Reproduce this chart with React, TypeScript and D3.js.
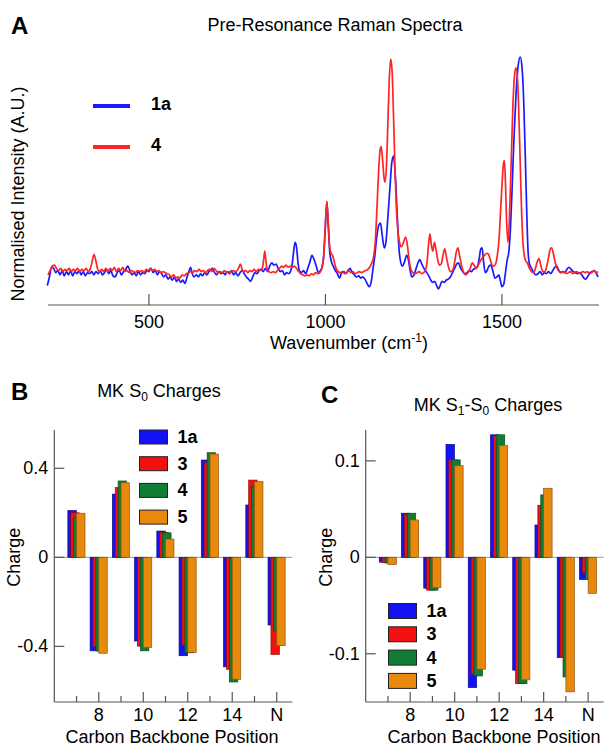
import { useEffect, useRef } from 'react';
import * as d3 from 'd3';

// Raman spectra, [wavenumber, normalised intensity]
const spectrum1a = [
  [212, -0.06], [218, -0.02], [224, 0.025], [230, 0.02], [236, 0.0], [242, 0.01], [248, -0.01], [254, 0.01],
  [260, -0.015], [266, 0.005], [272, -0.01], [278, 0.01], [284, -0.015], [290, 0.005], [296, -0.005], [302, 0.01],
  [308, -0.01], [314, 0.005], [320, -0.015], [326, 0.0], [332, -0.005], [338, 0.005], [344, -0.01], [350, 0.005],
  [356, -0.005], [362, 0.01], [368, -0.01], [374, 0.0], [380, 0.015], [386, -0.005], [392, 0.01], [398, -0.015],
  [404, -0.02], [410, 0.0], [416, 0.01], [422, -0.01], [428, 0.005], [434, 0.015], [440, 0.03], [446, 0.01],
  [452, -0.01], [458, 0.0], [464, -0.015], [470, 0.005], [476, -0.01], [482, 0.0], [488, -0.005], [494, 0.01],
  [500, 0.005], [506, 0.02], [512, 0.0], [518, 0.01], [524, -0.01], [530, 0.005], [536, -0.005], [542, -0.02],
  [548, -0.01], [554, -0.03], [560, -0.02], [566, -0.035], [572, -0.02], [578, -0.04], [584, -0.03], [590, -0.045],
  [596, -0.035], [602, -0.05], [608, -0.02], [614, 0.01], [618, 0.025], [622, 0.0], [628, -0.02], [634, -0.01],
  [640, -0.02], [646, -0.005], [652, -0.015], [658, 0.0], [664, -0.01], [670, 0.005], [676, 0.015], [680, 0.02],
  [686, 0.0], [692, -0.01], [698, 0.005], [704, -0.005], [710, 0.0], [716, -0.01], [722, 0.005], [728, -0.005],
  [734, 0.01], [740, -0.01], [746, 0.0], [752, -0.015], [758, 0.0], [764, 0.01], [770, -0.005], [776, -0.02],
  [782, -0.03], [788, -0.04], [794, -0.02], [800, 0.0], [806, -0.005], [812, 0.01], [818, 0.015], [824, 0.005],
  [830, 0.02], [836, 0.005], [842, 0.03], [848, 0.045], [854, 0.035], [860, 0.04], [866, 0.02], [872, 0.005],
  [878, 0.01], [884, -0.01], [890, 0.0], [896, -0.005], [902, 0.01], [906, 0.04], [910, 0.1], [914, 0.14],
  [918, 0.12], [922, 0.05], [926, 0.01], [932, 0.0], [938, 0.01], [944, -0.005], [950, 0.02], [956, 0.05],
  [962, 0.08], [968, 0.06], [974, 0.03], [980, 0.0], [986, 0.01], [991, 0.03], [995, 0.08], [999, 0.19],
  [1004, 0.33], [1008, 0.22], [1012, 0.1], [1017, 0.05], [1022, 0.03], [1028, 0.01], [1034, -0.005], [1040, -0.025],
  [1046, 0.0], [1052, 0.005], [1058, -0.005], [1064, 0.01], [1070, 0.02], [1076, 0.0], [1082, -0.01], [1088, -0.02],
  [1094, -0.015], [1100, -0.025], [1106, -0.02], [1112, -0.03], [1118, -0.05], [1124, -0.065], [1130, -0.04],
  [1135, 0.02], [1140, 0.08], [1145, 0.16], [1151, 0.22], [1156, 0.23], [1161, 0.17], [1167, 0.115], [1172, 0.15],
  [1177, 0.26], [1183, 0.4], [1188, 0.51], [1193, 0.54], [1198, 0.45], [1203, 0.28], [1208, 0.12], [1213, 0.05],
  [1218, 0.03], [1224, 0.05], [1230, 0.08], [1235, 0.06], [1240, 0.01], [1245, -0.02], [1251, -0.01], [1257, 0.02],
  [1262, 0.045], [1267, 0.06], [1273, 0.04], [1279, 0.02], [1285, 0.005], [1291, -0.01], [1297, -0.03], [1303, -0.045],
  [1309, -0.04], [1315, -0.06], [1320, -0.075], [1325, -0.06], [1330, -0.04], [1336, -0.045], [1342, -0.035],
  [1348, -0.03], [1354, -0.02], [1360, 0.0], [1366, 0.02], [1372, 0.04], [1377, 0.045], [1383, 0.02], [1389, 0.005],
  [1395, -0.005], [1401, 0.0], [1407, 0.01], [1413, 0.005], [1419, 0.015], [1425, 0.02], [1431, 0.03], [1436, 0.07],
  [1440, 0.11], [1444, 0.115], [1448, 0.05], [1453, 0.0], [1458, 0.01], [1463, 0.03], [1468, 0.035], [1474, 0.01],
  [1480, -0.025], [1486, -0.02], [1491, -0.01], [1496, -0.04], [1500, -0.065], [1505, -0.055], [1510, 0.0],
  [1515, 0.06], [1519, 0.09], [1524, 0.2], [1529, 0.4], [1534, 0.62], [1540, 0.83], [1546, 0.96], [1552, 1.0],
  [1557, 0.95], [1562, 0.78], [1566, 0.55], [1570, 0.3], [1574, 0.1], [1578, 0.04], [1584, 0.02], [1590, 0.0],
  [1596, -0.01], [1602, -0.005], [1608, 0.005], [1614, -0.01], [1620, 0.0], [1626, -0.005], [1632, 0.005],
  [1638, -0.005], [1644, 0.01], [1650, 0.025], [1655, 0.03], [1660, 0.015], [1666, 0.0], [1672, 0.005], [1678, 0.0],
  [1684, 0.015], [1690, 0.025], [1696, 0.015], [1702, 0.005], [1708, 0.0], [1714, -0.005], [1720, 0.0], [1726, -0.01],
  [1732, -0.025], [1738, -0.03], [1744, -0.015], [1750, 0.0], [1756, 0.005], [1762, 0.01], [1768, -0.005], [1772, -0.02],
];

const spectrum4 = [
  [214, -0.01], [220, 0.01], [226, 0.03], [232, 0.035], [238, 0.02], [244, 0.01], [250, 0.02], [256, 0.005],
  [262, 0.015], [268, 0.01], [274, 0.02], [280, 0.005], [286, 0.015], [292, 0.01], [298, 0.02], [304, 0.005],
  [310, 0.015], [316, 0.01], [322, 0.02], [328, 0.005], [334, 0.02], [339, 0.05], [344, 0.085], [349, 0.06],
  [354, 0.02], [360, 0.005], [366, 0.015], [372, 0.005], [378, 0.02], [384, 0.005], [390, 0.02], [396, 0.01],
  [402, 0.025], [408, 0.005], [414, 0.02], [420, 0.01], [426, 0.025], [432, 0.005], [438, 0.01], [444, 0.0],
  [450, 0.01], [456, 0.005], [462, 0.0], [468, 0.01], [474, 0.005], [480, 0.01], [486, 0.0], [492, 0.015],
  [498, 0.01], [504, 0.02], [510, 0.01], [516, 0.015], [522, 0.005], [528, 0.01], [534, 0.0], [540, 0.005],
  [546, 0.0], [552, -0.005], [558, -0.01], [564, -0.02], [570, -0.01], [576, -0.025], [582, -0.02], [588, -0.025],
  [594, -0.01], [600, -0.015], [606, -0.005], [612, 0.0], [618, 0.005], [624, 0.0], [630, 0.01], [636, 0.005],
  [642, 0.015], [648, 0.005], [654, 0.01], [660, 0.0], [666, 0.01], [672, 0.015], [678, 0.005], [684, 0.02],
  [690, 0.01], [696, 0.0], [702, 0.005], [708, 0.0], [714, 0.01], [720, 0.0], [726, 0.005], [732, 0.0],
  [738, 0.01], [744, 0.005], [750, 0.01], [755, 0.025], [759, 0.04], [763, 0.02], [768, 0.005], [774, 0.01],
  [780, 0.0], [786, 0.01], [792, 0.005], [798, 0.015], [804, 0.005], [810, 0.015], [816, 0.01], [821, 0.02],
  [825, 0.06], [828, 0.1], [831, 0.06], [835, 0.015], [840, 0.005], [846, 0.0], [852, 0.005], [858, 0.0],
  [864, 0.01], [870, 0.02], [876, 0.03], [882, 0.025], [888, 0.035], [894, 0.025], [900, 0.03], [906, 0.025],
  [912, 0.03], [918, 0.02], [924, 0.005], [930, -0.005], [936, -0.01], [942, -0.015], [948, -0.01], [954, -0.015],
  [960, -0.005], [966, -0.01], [972, 0.0], [978, -0.005], [984, 0.0], [990, 0.02], [995, 0.07], [999, 0.19],
  [1004, 0.33], [1008, 0.23], [1012, 0.12], [1016, 0.09], [1020, 0.08], [1025, 0.05], [1030, 0.02], [1036, 0.005],
  [1042, 0.0], [1048, 0.005], [1054, -0.005], [1060, 0.0], [1066, 0.01], [1072, 0.0], [1078, 0.005], [1084, -0.005],
  [1090, 0.0], [1096, 0.005], [1102, 0.0], [1108, 0.005], [1114, 0.01], [1120, 0.015], [1125, 0.025], [1130, 0.04],
  [1136, 0.07], [1141, 0.14], [1146, 0.3], [1151, 0.48], [1155, 0.57], [1158, 0.585], [1162, 0.52], [1166, 0.44],
  [1169, 0.42], [1173, 0.5], [1177, 0.7], [1181, 0.9], [1185, 0.99], [1189, 0.93], [1193, 0.72], [1197, 0.48],
  [1201, 0.3], [1205, 0.2], [1210, 0.14], [1215, 0.12], [1221, 0.14], [1227, 0.165], [1232, 0.13], [1237, 0.06],
  [1242, 0.015], [1248, 0.0], [1254, -0.005], [1260, 0.0], [1266, 0.005], [1272, -0.005], [1278, 0.0], [1283, 0.01],
  [1288, 0.05], [1292, 0.13], [1296, 0.18], [1300, 0.13], [1304, 0.1], [1309, 0.14], [1313, 0.11], [1318, 0.06],
  [1323, 0.035], [1328, 0.04], [1333, 0.08], [1338, 0.11], [1343, 0.07], [1348, 0.03], [1354, 0.005], [1360, 0.01],
  [1365, 0.04], [1370, 0.09], [1375, 0.115], [1380, 0.08], [1386, 0.03], [1392, 0.0], [1398, -0.01], [1404, 0.0],
  [1410, 0.02], [1416, 0.045], [1421, 0.035], [1427, 0.02], [1433, 0.035], [1439, 0.055], [1445, 0.07], [1451, 0.08],
  [1457, 0.09], [1462, 0.085], [1467, 0.06], [1472, 0.035], [1477, 0.03], [1482, 0.04], [1487, 0.08], [1492, 0.16],
  [1496, 0.28], [1500, 0.4], [1504, 0.5], [1507, 0.52], [1510, 0.42], [1513, 0.25], [1517, 0.14], [1521, 0.24],
  [1526, 0.5], [1531, 0.77], [1536, 0.92], [1540, 0.95], [1545, 0.87], [1550, 0.62], [1555, 0.32], [1560, 0.13],
  [1566, 0.06], [1572, 0.045], [1578, 0.02], [1584, 0.005], [1590, 0.0], [1595, 0.02], [1600, 0.05], [1605, 0.065],
  [1610, 0.035], [1616, 0.005], [1622, 0.005], [1627, 0.03], [1632, 0.07], [1637, 0.11], [1641, 0.115], [1646, 0.085],
  [1652, 0.04], [1658, 0.015], [1664, 0.005], [1670, 0.0], [1676, 0.005], [1682, -0.005], [1688, 0.0], [1694, 0.005],
  [1700, -0.005], [1706, 0.0], [1712, 0.005], [1718, -0.005], [1724, 0.0], [1730, 0.005], [1736, 0.0], [1742, 0.005],
  [1748, -0.005], [1754, 0.0], [1760, 0.01], [1766, 0.0], [1772, 0.005],
];

const wavenumberTicks = [500, 1000, 1500];

// carbon backbone positions (16 = N)
const positions = [7, 8, 9, 10, 11, 12, 13, 14, 15, 16];
const majorTicks = [8, 10, 12, 14, 16];
const majorTickLabels = ['8', '10', '12', '14', 'N'];
const minorTicks = [7, 9, 11, 13, 15];

const compounds = ['1a', '3', '4', '5'];
const barColors = ['#1212f2', '#f21010', '#0f7d33', '#e8890e'];

// MK S0 charges
const s0_1a = [0.21, -0.42, 0.284, -0.376, 0.118, -0.442, 0.437, -0.492, 0.235, -0.304];
const s0_3 = [0.2, -0.4, 0.313, -0.399, 0.112, -0.394, 0.425, -0.503, 0.347, -0.436];
const s0_4 = [0.178, -0.421, 0.343, -0.42, 0.11, -0.429, 0.47, -0.56, 0.317, -0.331];
const s0_5 = [0.198, -0.431, 0.335, -0.405, 0.082, -0.427, 0.464, -0.548, 0.34, -0.397];
const s0Ticks = [-0.4, 0, 0.4];

// MK S1-S0 charges
const s1s0_1a = [-0.005, 0.0457, -0.032, 0.117, -0.135, 0.127, -0.117, 0.0335, -0.104, -0.0229];
const s1s0_3 = [-0.0055, 0.0446, -0.034, 0.101, -0.121, 0.126, -0.131, 0.054, -0.104, -0.016];
const s1s0_4 = [-0.006, 0.0457, -0.034, 0.101, -0.123, 0.127, -0.131, 0.0647, -0.124, -0.0229];
const s1s0_5 = [-0.0075, 0.0387, -0.0315, 0.095, -0.116, 0.116, -0.127, 0.0716, -0.1395, -0.0374];
const s1s0Ticks = [-0.1, 0, 0.1];

const FONT = '"Liberation Sans", Arial, Helvetica, sans-serif';
const AXIS = '#555';

function drawBarPanel(svg, o) {
  const x = d3.scaleLinear().domain([6, 16.7]).range([o.left, o.left + 238]);
  const y = d3.scaleLinear().domain(o.yDomain).range([702, 430]);
  const g = svg.append('g');

  g.append('text').attr('x', o.letterX).attr('y', o.letterY).attr('font-size', 24)
    .attr('font-weight', 'bold').text(o.letter);

  const title = g.append('text').attr('x', o.titleX).attr('y', o.titleY)
    .attr('text-anchor', 'middle').attr('font-size', 18);
  o.title(title);

  // zero line
  g.append('line').attr('x1', x(6)).attr('x2', x(16.7)).attr('y1', y(0)).attr('y2', y(0))
    .attr('stroke', '#999').attr('stroke-width', 1);

  // bars
  const series = o.series;
  series.forEach((vals, i) => {
    const c = d3.color(barColors[i]).darker(1.3).toString();
    g.selectAll(null).data(positions.map((p, j) => ({ p, v: vals[j] }))).enter()
      .append('rect')
      .attr('x', d => x(d.p - 0.39 + i * 0.13))
      .attr('width', x(6.38) - x(6))
      .attr('y', d => Math.min(y(d.v), y(0)))
      .attr('height', d => Math.abs(y(d.v) - y(0)))
      .attr('fill', barColors[i])
      .attr('stroke', c)
      .attr('stroke-width', 0.7);
  });

  // axes
  g.append('line').attr('x1', x(6)).attr('x2', x(6)).attr('y1', 430).attr('y2', 702)
    .attr('stroke', AXIS).attr('stroke-width', 1.2);
  g.append('line').attr('x1', x(6)).attr('x2', x(16.7)).attr('y1', 702).attr('y2', 702)
    .attr('stroke', AXIS).attr('stroke-width', 1.2);

  majorTicks.forEach((t, i) => {
    g.append('line').attr('x1', x(t)).attr('x2', x(t)).attr('y1', 702).attr('y2', 692)
      .attr('stroke', AXIS).attr('stroke-width', 1.2);
    g.append('text').attr('x', x(t)).attr('y', 721).attr('text-anchor', 'middle')
      .attr('font-size', 18).text(majorTickLabels[i]);
  });
  minorTicks.forEach(t => {
    g.append('line').attr('x1', x(t)).attr('x2', x(t)).attr('y1', 702).attr('y2', 696)
      .attr('stroke', AXIS).attr('stroke-width', 1.2);
  });
  o.yTicks.forEach(t => {
    g.append('line').attr('x1', x(6)).attr('x2', x(6) + 10).attr('y1', y(t)).attr('y2', y(t))
      .attr('stroke', AXIS).attr('stroke-width', 1.2);
    g.append('text').attr('x', x(6) - 6).attr('y', y(t) + 6).attr('text-anchor', 'end')
      .attr('font-size', 18).text(t === 0 ? '0' : String(t));
  });

  g.append('text').attr('transform', `translate(${o.left - 34},${y(0)}) rotate(-90)`)
    .attr('text-anchor', 'middle').attr('font-size', 18).text('Charge');
  g.append('text').attr('x', o.xLabelX).attr('y', 743).attr('text-anchor', 'middle')
    .attr('font-size', 18).text('Carbon Backbone Position');

  // legend
  compounds.forEach((name, i) => {
    const cy = o.legendY + i * o.legendStep;
    g.append('rect').attr('x', o.legendX).attr('y', cy - o.swatchH / 2).attr('width', 28)
      .attr('height', o.swatchH).attr('fill', barColors[i]).attr('stroke', '#222').attr('stroke-width', 1);
    g.append('text').attr('x', o.legendX + 38).attr('y', cy + 6).attr('font-size', 18)
      .attr('font-weight', 'bold').text(name);
  });
}

const App = () => {
  const svgRef = useRef(null);

  useEffect(() => {
    const svg = d3.select(svgRef.current);
    svg.selectAll('*').remove();

    // ---- Panel A: spectra ----
    const x = d3.scaleLinear().domain([214, 1775]).range([48, 599]);
    const y = d3.scaleLinear().domain([-0.15, 1.0]).range([305, 57]);
    const a = svg.append('g');

    a.append('text').attr('x', 11).attr('y', 34).attr('font-size', 24).attr('font-weight', 'bold').text('A');
    a.append('text').attr('x', 335).attr('y', 31).attr('text-anchor', 'middle').attr('font-size', 18)
      .text('Pre-Resonance Raman Spectra');

    const line = d3.line().x(d => x(d[0])).y(d => y(d[1])).curve(d3.curveMonotoneX);
    a.append('path').datum(spectrum1a).attr('d', line).attr('fill', 'none')
      .attr('stroke', '#1a1aff').attr('stroke-width', 1.7);
    a.append('path').datum(spectrum4).attr('d', line).attr('fill', 'none')
      .attr('stroke', '#ff2424').attr('stroke-width', 1.7);

    a.append('line').attr('x1', 48).attr('x2', 599).attr('y1', 305).attr('y2', 305)
      .attr('stroke', AXIS).attr('stroke-width', 1.2);
    wavenumberTicks.forEach(t => {
      a.append('line').attr('x1', x(t)).attr('x2', x(t)).attr('y1', 305).attr('y2', 294)
        .attr('stroke', AXIS).attr('stroke-width', 1.2);
      a.append('text').attr('x', x(t)).attr('y', 328).attr('text-anchor', 'middle')
        .attr('font-size', 18).text(t);
    });

    const xl = a.append('text').attr('x', 349).attr('y', 349).attr('text-anchor', 'middle').attr('font-size', 18);
    xl.append('tspan').text('Wavenumber (cm');
    xl.append('tspan').attr('dy', -7).attr('font-size', 12).text('-1');
    xl.append('tspan').attr('dy', 7).text(')');

    a.append('text').attr('transform', 'translate(24,194) rotate(-90)').attr('text-anchor', 'middle')
      .attr('font-size', 18).text('Normalised Intensity (A.U.)');

    [['1a', '#1a1aff', 106], ['4', '#ff2424', 147]].forEach(([name, col, ly]) => {
      a.append('line').attr('x1', 93).attr('x2', 130).attr('y1', ly).attr('y2', ly)
        .attr('stroke', col).attr('stroke-width', 4);
      a.append('text').attr('x', 151).attr('y', ly + 4).attr('font-size', 18)
        .attr('font-weight', 'bold').text(name);
    });

    // ---- Panel B ----
    drawBarPanel(svg, {
      left: 54.3,
      yDomain: [-0.65, 0.572],
      yTicks: s0Ticks,
      series: [s0_1a, s0_3, s0_4, s0_5],
      letter: 'B', letterX: 11, letterY: 400,
      titleX: 159, titleY: 397,
      title: t => {
        t.append('tspan').text('MK S');
        t.append('tspan').attr('dy', 4).attr('font-size', 12).text('0');
        t.append('tspan').attr('dy', -4).text(' Charges');
      },
      xLabelX: 172,
      legendX: 139.5, legendY: 437, legendStep: 26.7, swatchH: 14,
    });

    // ---- Panel C ----
    drawBarPanel(svg, {
      left: 365.7,
      yDomain: [-0.15, 0.132],
      yTicks: s1s0Ticks,
      series: [s1s0_1a, s1s0_3, s1s0_4, s1s0_5],
      letter: 'C', letterX: 321, letterY: 403,
      titleX: 488, titleY: 411,
      title: t => {
        t.append('tspan').text('MK S');
        t.append('tspan').attr('dy', 4).attr('font-size', 12).text('1');
        t.append('tspan').attr('dy', -4).text('-S');
        t.append('tspan').attr('dy', 4).attr('font-size', 12).text('0');
        t.append('tspan').attr('dy', -4).text(' Charges');
      },
      xLabelX: 494,
      legendX: 388.5, legendY: 611, legendStep: 23.3, swatchH: 15,
    });
  }, []);

  return (
    <svg
      ref={svgRef}
      width={606}
      height={748}
      style={{ position: 'absolute', left: 0, top: 0, background: '#fff', fontFamily: FONT }}
    />
  );
};

export default App;
